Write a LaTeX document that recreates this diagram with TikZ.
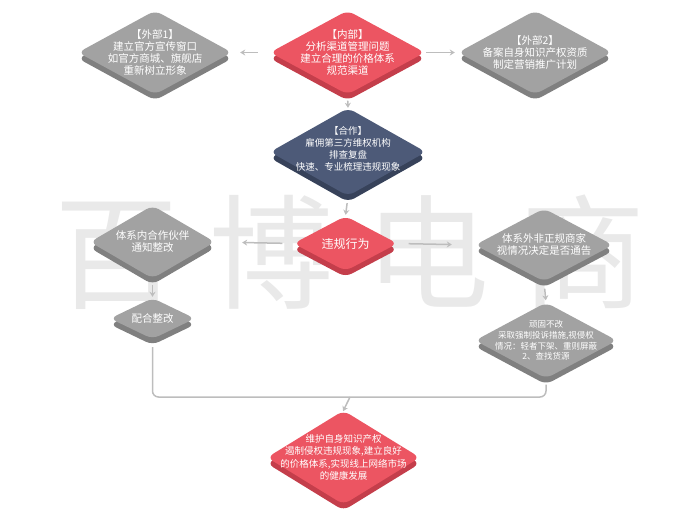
\documentclass[tikz,border=0pt]{standalone}
\usepackage{fontspec}
\newfontfamily\cjk{Noto Sans CJK SC}
\usetikzlibrary{shapes.geometric,shadows,arrows.meta}
\definecolor{redtop}{HTML}{EC5562}
\definecolor{redside}{HTML}{C43E4B}
\definecolor{bluetop}{HTML}{4D5A78}
\definecolor{blueside}{HTML}{37425A}
\definecolor{graytop}{HTML}{A2A2A2}
\definecolor{grayside}{HTML}{808080}
\definecolor{linegray}{HTML}{BDBDBD}
\definecolor{markgray}{HTML}{E9E9E9}
\tikzset{
  block/.style={diamond, rounded corners=7pt, inner sep=0pt, draw=none},
  redblock/.style={block, fill=redtop, general shadow={shadow yshift=-6pt, fill=redside}},
  blueblock/.style={block, fill=bluetop, general shadow={shadow yshift=-6pt, fill=blueside}},
  grayblock/.style={block, fill=graytop, general shadow={shadow yshift=-6pt, fill=grayside}},
  txt/.style={text=white, align=center, inner sep=0pt, font=\cjk\fontsize{10.5}{12}\selectfont},
  smalltxt/.style={txt, font=\cjk\fontsize{8.5}{10.8}\selectfont},
  watermark/.style={text=markgray, inner sep=0pt, font=\cjk\fontsize{124}{124}\selectfont},
  arr/.style={draw=linegray, line width=1.5pt, -{Stealth[length=5pt,width=6pt]}},
  link/.style={draw=linegray, line width=1.5pt, rounded corners=6pt}
}
\begin{document}
\begin{tikzpicture}[x=1pt, y=-1pt]
  \useasboundingbox (0,0) rectangle (700,522);
  % Watermark
  \node [watermark] (wm) at (350,252) {百\hspace{32pt}博\hspace{32pt}电\hspace{32pt}商};
  % Top row
  \node [redblock, minimum width=155pt, minimum height=84pt,
    label={[txt]center:{【内部】\\分析渠道管理问题\\建立合理的价格体系\\规范渠道}}] (neibu) at (347.5,52.5) {};
  \node [grayblock, minimum width=154pt, minimum height=84pt,
    label={[txt]center:{【外部1】\\建立官方宣传窗口\\如官方商城、旗舰店\\重新树立形象}}] (waibu1) at (155,52.5) {};
  \node [grayblock, minimum width=154pt, minimum height=84pt,
    label={[txt]center:{【外部2】\\备案自身知识产权资质\\制定营销推广计划}}] (waibu2) at (535,52.5) {};
  % Middle column
  \node [blueblock, minimum width=156pt, minimum height=88pt,
    label={[txt, yshift=3pt, font=\cjk\fontsize{9.5}{11.8}\selectfont]center:{【合作】\\雇佣第三方维权机构\\排查复盘\\快速、专业梳理违规现象}}] (hezuo) at (348,152) {};
  \node [redblock, minimum width=104pt, minimum height=55pt,
    label={[txt, font=\cjk\fontsize{12}{14}\selectfont]center:{违规行为}}] (weigui) at (345.5,243.5) {};
  % Left branch
  \node [grayblock, minimum width=125pt, minimum height=73pt,
    label={[txt]center:{体系内合作伙伴\\通知整改}}] (tixinei) at (152.5,242) {};
  \node [grayblock, minimum width=85pt, minimum height=41pt,
    label={[txt]center:{配合整改}}] (peihe) at (152.5,318.5) {};
  % Right branch
  \node [grayblock, minimum width=138pt, minimum height=73pt,
    label={[txt]center:{体系外非正规商家\\视情况决定是否通告}}] (tixiwai) at (544,245) {};
  \node [grayblock, minimum width=142pt, minimum height=76pt,
    label={[smalltxt]center:{顽固不改\\采取强制投诉措施,视侵权\\情况：轻者下架、重则屏蔽\\2、查找货源}}] (wangu) at (546,340.5) {};
  % Result
  \node [redblock, minimum width=153pt, minimum height=94pt,
    label={[txt, font=\cjk\fontsize{9.5}{12.5}\selectfont]center:{维护自身知识产权\\遏制侵权违规现象,建立良好\\的价格体系,实现线上网络市场\\的健康发展}}] (jieguo) at (343.5,457.5) {};
  % Arrows
  \draw [arr, shorten <=12pt, shorten >=8pt] (neibu.west) -- (waibu1.east);
  \draw [arr, shorten <=1pt, shorten >=3pt] (neibu.east) -- (waibu2.west);
  \draw [arr, shorten <=6pt, shorten >=0pt] (neibu.south) -- (hezuo.north);
  \draw [arr, shorten <=7pt, shorten >=1pt] (hezuo.south) -- (weigui.north);
  \draw [arr, shorten <=11pt, shorten >=27pt] (weigui.west) -- (tixinei.east);
  \draw [arr, shorten <=11pt, shorten >=23pt] (weigui.east) -- (tixiwai.west);
  \draw [arr, shorten <=6pt, shorten >=1pt] (tixinei.south) -- (peihe.north);
  \draw [arr, shorten <=7pt, shorten >=2pt] (tixiwai.south) -- (wangu.north);
  % Merge line
  \coordinate (bus) at (350,397);
  \draw [link, shorten <=8pt, shorten >=6pt] (peihe.south) |- (bus) -| (wangu.south);
  \draw [arr, shorten >=-1pt] (bus) -- (jieguo.north);
\end{tikzpicture}
\end{document}
